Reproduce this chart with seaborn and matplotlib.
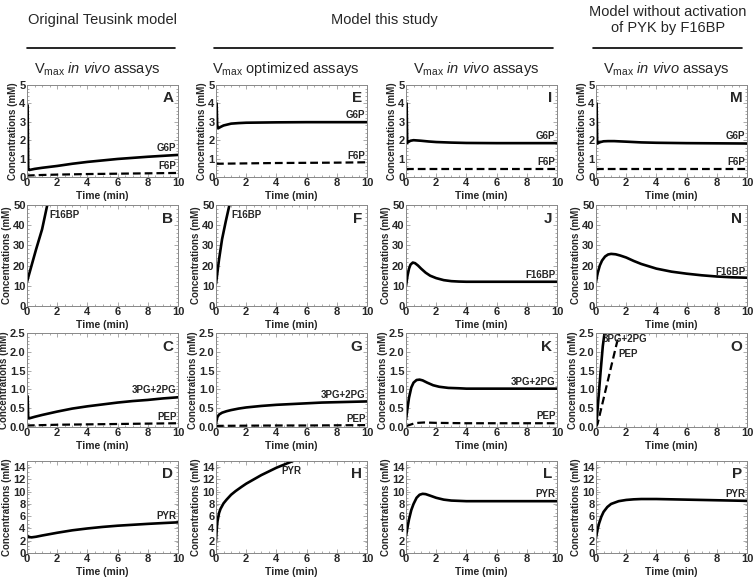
import numpy as np
import pandas as pd
import matplotlib
matplotlib.use("Agg")
import matplotlib.pyplot as plt
from matplotlib.lines import Line2D
from matplotlib.ticker import MultipleLocator
import seaborn as sns

# ── Data (time in min, concentration in mM) ──
# Row 1: G6P / F6P
a_g6p_t = [0.04, 0.08, 0.15, 0.5, 1, 2, 3, 4, 5, 6, 7, 8, 9, 10]
a_g6p = [3.9, 0.42, 0.38, 0.44, 0.5, 0.6, 0.72, 0.82, 0.9, 0.98, 1.04, 1.1, 1.15, 1.2]
a_f6p_t = [0, 0.05, 1, 2, 4, 6, 8, 10]
a_f6p = [0.1, 0.08, 0.11, 0.13, 0.16, 0.18, 0.2, 0.22]

e_g6p_t = [0.04, 0.08, 0.15, 0.3, 0.5, 1, 1.5, 2, 4, 6, 8, 10]
e_g6p = [4.0, 2.8, 2.65, 2.72, 2.8, 2.9, 2.93, 2.95, 2.97, 2.98, 2.98, 2.98]
e_f6p_t = [0, 2, 4, 6, 8, 10]
e_f6p = [0.72, 0.74, 0.76, 0.77, 0.78, 0.8]

i_g6p_t = [0.04, 0.08, 0.15, 0.3, 0.5, 1, 1.5, 2, 3, 4, 6, 8, 10]
i_g6p = [4.0, 1.85, 1.9, 1.97, 2.0, 1.97, 1.93, 1.9, 1.87, 1.85, 1.84, 1.84, 1.84]
i_f6p_t = [0, 1, 2, 4, 6, 8, 10]
i_f6p = [0.45, 0.45, 0.45, 0.45, 0.45, 0.45, 0.45]

m_g6p_t = [0.04, 0.08, 0.15, 0.3, 0.5, 0.8, 1.2, 2, 3, 4, 6, 8, 10]
m_g6p = [4.0, 1.82, 1.85, 1.9, 1.94, 1.95, 1.95, 1.92, 1.88, 1.86, 1.84, 1.83, 1.82]
m_f6p_t = [0, 1, 2, 4, 6, 8, 10]
m_f6p = [0.43, 0.43, 0.43, 0.43, 0.43, 0.43, 0.43]

# Row 2: F16BP
b_fbp_t = [0, 0.3, 0.6, 1.0, 1.4]
b_fbp = [12, 20, 28, 38, 52]
f_fbp_t = [0, 0.2, 0.4, 0.65, 0.95]
f_fbp = [11, 23, 33, 42, 52]
j_fbp_t = [0, 0.1, 0.2, 0.3, 0.45, 0.6, 0.8, 1.0, 1.3, 1.6, 2, 2.5, 3, 3.5, 4, 6, 8, 10]
j_fbp = [10, 15, 18.5, 20.5, 21.5, 21.2, 20, 18.5, 16.5, 15, 13.8, 12.8, 12.3, 12.1, 12, 12, 12, 12]
n_fbp_t = [0, 0.1, 0.25, 0.4, 0.6, 0.8, 1.0, 1.3, 1.6, 2, 2.5, 3, 4, 5, 6, 7, 8, 9, 10]
n_fbp = [12, 16, 20, 22.5, 24.5, 25.5, 25.8, 25.6, 25, 24, 22.3, 20.8, 18.5, 17, 16, 15.2, 14.6, 14.2, 14]

# Row 3: 3PG+2PG / PEP
c_pg_t = [0.04, 0.08, 0.15, 0.5, 1, 2, 3, 4, 5, 6, 7, 8, 9, 10]
c_pg = [0.82, 0.24, 0.23, 0.27, 0.32, 0.41, 0.49, 0.55, 0.6, 0.65, 0.69, 0.72, 0.76, 0.79]
c_pep_t = [0, 0.05, 1, 2, 4, 6, 8, 10]
c_pep = [0.05, 0.04, 0.05, 0.06, 0.07, 0.08, 0.09, 0.1]

g_pg_t = [0, 0.05, 0.1, 0.2, 0.4, 0.7, 1, 1.5, 2, 3, 4, 5, 6, 7, 8, 9, 10]
g_pg = [0.08, 0.2, 0.27, 0.33, 0.38, 0.42, 0.45, 0.49, 0.52, 0.56, 0.59, 0.61, 0.63, 0.65, 0.66, 0.67, 0.68]
g_pep_t = [0, 2, 4, 6, 8, 10]
g_pep = [0.03, 0.035, 0.04, 0.04, 0.045, 0.05]

k_pg_t = [0, 0.1, 0.2, 0.35, 0.5, 0.7, 0.9, 1.1, 1.4, 1.8, 2.2, 2.8, 3.5, 4, 6, 8, 10]
k_pg = [0.2, 0.5, 0.78, 1.05, 1.18, 1.25, 1.26, 1.24, 1.18, 1.11, 1.07, 1.04, 1.03, 1.02, 1.02, 1.02, 1.02]
k_pep_t = [0, 0.2, 0.5, 0.8, 1.2, 2, 4, 6, 8, 10]
k_pep = [0.02, 0.05, 0.09, 0.11, 0.12, 0.11, 0.1, 0.1, 0.1, 0.1]

o_pg_t = [0, 0.05, 0.12, 0.3, 0.45, 0.6]
o_pg = [0.3, 0.2, 0.55, 1.45, 2.15, 2.6]
o_pep_t = [0, 0.1, 0.5, 1.0, 1.6]
o_pep = [0.0, 0.08, 0.75, 1.6, 2.6]

# Row 4: PYR
d_pyr_t = [0, 0.05, 0.15, 0.3, 0.6, 1, 2, 3, 4, 5, 6, 7, 8, 9, 10]
d_pyr = [2.9, 2.7, 2.6, 2.55, 2.65, 2.85, 3.3, 3.7, 4.0, 4.25, 4.45, 4.6, 4.75, 4.88, 5.0]
h_pyr_t = [0, 0.05, 0.1, 0.2, 0.3, 0.5, 0.7, 1.0, 1.3, 1.7, 2, 2.5, 3, 3.5, 4, 4.5, 5.1]
h_pyr = [2.0, 4.0, 5.2, 6.5, 7.2, 8.1, 8.7, 9.5, 10.1, 10.8, 11.3, 12.0, 12.7, 13.3, 13.9, 14.4, 15.0]
l_pyr_t = [0, 0.1, 0.2, 0.35, 0.5, 0.7, 0.9, 1.1, 1.3, 1.6, 2, 2.5, 3, 3.5, 4, 6, 8, 10]
l_pyr = [2.8, 4.2, 5.5, 7.0, 8.0, 9.0, 9.5, 9.65, 9.6, 9.35, 9.0, 8.7, 8.55, 8.5, 8.45, 8.45, 8.45, 8.45]
p_pyr_t = [0, 0.1, 0.2, 0.35, 0.5, 0.75, 1, 1.5, 2, 2.5, 3, 3.5, 4, 5, 6, 7, 8, 9, 10]
p_pyr = [2.5, 3.8, 4.8, 5.9, 6.7, 7.5, 8.0, 8.45, 8.65, 8.75, 8.8, 8.8, 8.8, 8.75, 8.7, 8.65, 8.6, 8.55, 8.5]

col_headers = ["Original Teusink model", "Model this study", "Model without activation\nof PYK by F16BP"]
sub_headers = [r"V$_{\mathrm{max}}$ $\it{in\ vivo}$ assays",
               r"V$_{\mathrm{max}}$ optimized assays",
               r"V$_{\mathrm{max}}$ $\it{in\ vivo}$ assays",
               r"V$_{\mathrm{max}}$ $\it{in\ vivo}$ assays"]
panel_letters = ["ABCD", "EFGH", "IJKL", "MNOP"]
row_ylims = [(0, 5), (0, 50), (0, 2.5), (0, 15)]
row_yticks = [[0, 1, 2, 3, 4, 5], [0, 10, 20, 30, 40, 50],
              [0.0, 0.5, 1.0, 1.5, 2.0, 2.5], [0, 2, 4, 6, 8, 10, 12, 14]]
row_yfmt = ["{:.0f}", "{:.0f}", "{:.1f}", "{:.0f}"]

# curves per panel: (t, y, dashed)
curves = {
    "A": [(a_g6p_t, a_g6p, False), (a_f6p_t, a_f6p, True)],
    "E": [(e_g6p_t, e_g6p, False), (e_f6p_t, e_f6p, True)],
    "I": [(i_g6p_t, i_g6p, False), (i_f6p_t, i_f6p, True)],
    "M": [(m_g6p_t, m_g6p, False), (m_f6p_t, m_f6p, True)],
    "B": [(b_fbp_t, b_fbp, False)],
    "F": [(f_fbp_t, f_fbp, False)],
    "J": [(j_fbp_t, j_fbp, False)],
    "N": [(n_fbp_t, n_fbp, False)],
    "C": [(c_pg_t, c_pg, False), (c_pep_t, c_pep, True)],
    "G": [(g_pg_t, g_pg, False), (g_pep_t, g_pep, True)],
    "K": [(k_pg_t, k_pg, False), (k_pep_t, k_pep, True)],
    "O": [(o_pg_t, o_pg, False), (o_pep_t, o_pep, True)],
    "D": [(d_pyr_t, d_pyr, False)],
    "H": [(h_pyr_t, h_pyr, False)],
    "L": [(l_pyr_t, l_pyr, False)],
    "P": [(p_pyr_t, p_pyr, False)],
}

# curve name labels: (x, y, text, ha, va)
labels = {
    "A": [(9.9, 1.28, "G6P", "right", "bottom"), (9.9, 0.3, "F6P", "right", "bottom")],
    "E": [(9.9, 3.08, "G6P", "right", "bottom"), (9.9, 0.88, "F6P", "right", "bottom")],
    "I": [(9.9, 1.95, "G6P", "right", "bottom"), (9.9, 0.55, "F6P", "right", "bottom")],
    "M": [(9.9, 1.93, "G6P", "right", "bottom"), (9.9, 0.53, "F6P", "right", "bottom")],
    "B": [(1.45, 45, "F16BP", "left", "center")],
    "F": [(1.0, 45, "F16BP", "left", "center")],
    "J": [(9.9, 12.8, "F16BP", "right", "bottom")],
    "N": [(9.9, 14.6, "F16BP", "right", "bottom")],
    "C": [(9.9, 0.85, "3PG+2PG", "right", "bottom"), (9.9, 0.14, "PEP", "right", "bottom")],
    "G": [(9.9, 0.73, "3PG+2PG", "right", "bottom"), (9.9, 0.09, "PEP", "right", "bottom")],
    "K": [(9.9, 1.07, "3PG+2PG", "right", "bottom"), (9.9, 0.15, "PEP", "right", "bottom")],
    "O": [(0.45, 2.35, "3PG+2PG", "left", "center"), (1.45, 1.95, "PEP", "left", "center")],
    "D": [(9.9, 5.25, "PYR", "right", "bottom")],
    "H": [(5.0, 13.3, "PYR", "center", "center")],
    "L": [(9.9, 8.85, "PYR", "right", "bottom")],
    "P": [(9.9, 8.85, "PYR", "right", "bottom")],
}

sns.set_style("ticks")
plt.rcParams['font.family'] = ['Liberation Sans', 'DejaVu Sans']
plt.rcParams['mathtext.fontset'] = 'custom'
plt.rcParams['mathtext.rm'] = 'Liberation Sans'
plt.rcParams['mathtext.it'] = 'Liberation Sans:italic'

W, H = 754, 579
fig = plt.figure(figsize=(W / 100, H / 100), dpi=100)

col_left = [27, 216, 406, 596]
ax_w = 151
row_top = [85, 205, 333, 461]
row_bot = [177, 306, 427, 553]

for c in range(4):
    for r in range(4):
        letter = panel_letters[c][r]
        rect = [col_left[c] / W, 1 - row_bot[r] / H, ax_w / W, (row_bot[r] - row_top[r]) / H]
        ax = fig.add_axes(rect)
        for t, y, dashed in curves[letter]:
            df = pd.DataFrame({"t": t, "y": y})
            sns.lineplot(data=df, x="t", y="y", ax=ax, color="black",
                         lw=1.6 if dashed else 1.9, sort=False,
                         linestyle=(0, (3.5, 1.8)) if dashed else "-")
        ax.set_xlim(0, 10)
        ax.set_ylim(*row_ylims[r])
        ax.set_xticks([0, 2, 4, 6, 8, 10])
        ax.set_xticklabels(["0", "2", "4", "6", "8", "10"], fontsize=8, fontweight="bold")
        ax.set_yticks(row_yticks[r])
        ax.set_yticklabels([row_yfmt[r].format(v) for v in row_yticks[r]],
                           fontsize=8, fontweight="bold")
        ax.xaxis.set_minor_locator(MultipleLocator(0.5))
        ax.yaxis.set_minor_locator(MultipleLocator((row_ylims[r][1]) / 25))
        ax.tick_params(which="both", direction="in", top=True, right=True,
                       color="#888888", width=0.5, pad=1)
        ax.tick_params(which="major", length=3)
        ax.tick_params(which="minor", length=1.5)
        for s in ax.spines.values():
            s.set_color("#888888")
            s.set_linewidth(0.7)
        ax.set_xlabel("Time (min)", fontsize=7.5, fontweight="bold", labelpad=2)
        ax.set_ylabel("Concentrations (mM)", fontsize=7, fontweight="bold", labelpad=1)
        ax.text(0.97, 0.93, letter, transform=ax.transAxes, ha="right", va="top",
                fontsize=11, fontweight="bold")
        for x, y, txt, ha, va in labels[letter]:
            ax.text(x, y, txt, ha=ha, va=va, fontsize=7, fontweight="bold")

# column headers and rules
fig.text(102 / W, 1 - 20 / H, col_headers[0], ha="center", va="center", fontsize=10.5)
fig.text(384 / W, 1 - 20 / H, col_headers[1], ha="center", va="center", fontsize=10.5)
fig.text(668 / W, 1 - 20 / H, col_headers[2], ha="center", va="center", fontsize=10.5,
         linespacing=1.1)
for x0, x1 in [(27, 175), (214, 553), (593, 742)]:
    fig.add_artist(Line2D([x0 / W, x1 / W], [1 - 48 / H, 1 - 48 / H],
                          color="black", lw=1.2))
for c, txt in enumerate(sub_headers):
    fig.text((col_left[c] + 70) / W, 1 - 69 / H, txt, ha="center", va="center", fontsize=10.5)

plt.savefig("out.png", dpi=100)
